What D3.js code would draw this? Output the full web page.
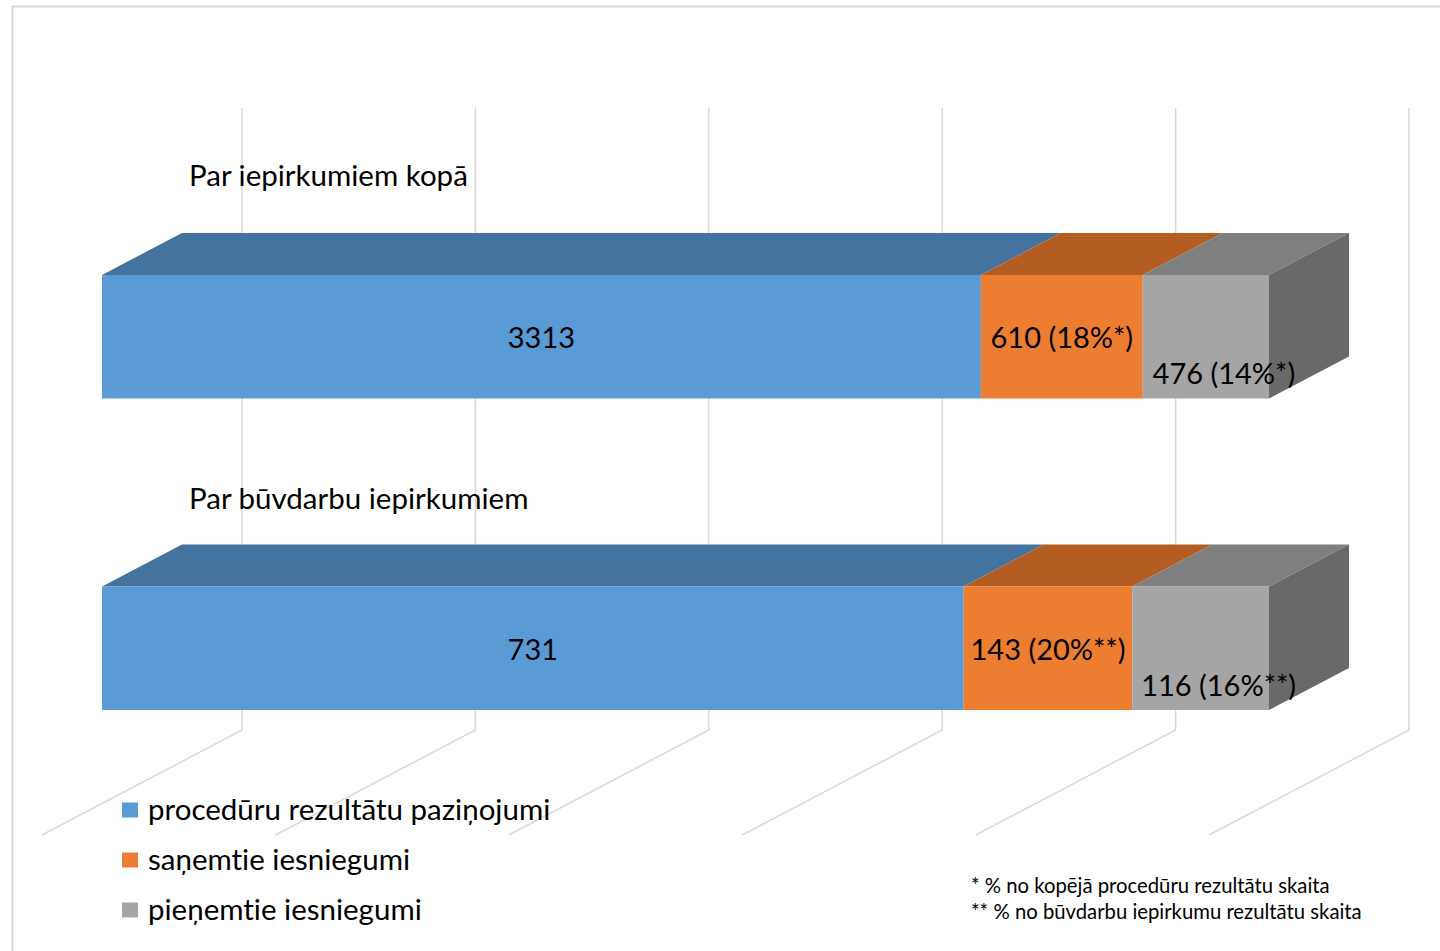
<!DOCTYPE html>
<html>
<head>
<meta charset="utf-8">
<script src="https://cdn.jsdelivr.net/npm/d3@7/dist/d3.min.js"></script>
<style>
  html, body { margin: 0; padding: 0; background: #fff; }
  svg { display: block; }
  text { font-family: Lato, "Open Sans", sans-serif; fill: #000; font-variant-ligatures: none; font-feature-settings: "liga" 0; }
</style>
</head>
<body>
<svg id="chart" width="1440" height="951"></svg>
<script>
// Bar categories (top to bottom)
const categories = ["Par iepirkumiem kopā", "Par būvdarbu iepirkumiem"];
// Series names, in stacking order
const seriesNames = ["procedūru rezultātu paziņojumi", "saņemtie iesniegumi", "pieņemtie iesniegumi"];
// Series values, one per category
const published = [3313, 731];
const received = [610, 143];
const accepted = [476, 116];
// Percent notes shown in the labels
const receivedPct = ["18%*", "20%**"];
const acceptedPct = ["14%*", "16%**"];
// Gridline ticks (share of the 100% stacked bar)
const gridTicks = [0, 0.2, 0.4, 0.6, 0.8, 1];
// Footnotes
const footnotes = ["* % no kopējā procedūru rezultātu skaita", "** % no būvdarbu iepirkumu rezultātu skaita"];

const series = [published, received, accepted];
const colors = [
  { front: "#5B9BD5", top: "#44739F", side: "#3E6A94" },
  { front: "#ED7D31", top: "#B45D22", side: "#A5561F" },
  { front: "#A5A5A5", top: "#7F7F7F", side: "#696969" }
];

const svg = d3.select("#chart");

// Chart frame
svg.append("rect")
  .attr("x", 12.5).attr("y", 6.5).attr("width", 1460).attr("height", 980)
  .attr("fill", "#fff").attr("stroke", "#d9d9d9").attr("stroke-width", 2);

// Oblique 3D projection: depth 0 = front of floor, depth 1 = back wall
const depthVec = { x: 200, y: -105 };
const x = d3.scaleLinear().domain([0, 1]).range([42, 1209]);
const y = d3.scaleBand().domain(categories).range([213, 835]).paddingInner(0.603).paddingOuter(0.3);
const proj = (v, yy, d) => [x(v) + depthVec.x * d, yy + depthVec.y * d];

const floorY = 835;
const wallTopY = 213;
const barDepth0 = 0.3, barDepth1 = 0.7;

// Gridlines: vertical on the back wall, then running forward across the floor
const grid = svg.append("g");
gridTicks.forEach(t => {
  const top = proj(t, wallTopY, 1);
  const backFloor = proj(t, floorY, 1);
  const frontFloor = proj(t, floorY, 0);
  grid.append("path")
    .attr("d", d3.line()([top, backFloor, frontFloor]))
    .attr("fill", "none").attr("stroke", "#d9d9d9").attr("stroke-width", 1.5);
});

// Stacked 3D bars
const bars = svg.append("g");
categories.forEach((cat, i) => {
  const total = d3.sum(series, s => s[i]);
  const y0 = y(cat), y1 = y(cat) + y.bandwidth();
  let acc = 0;
  const segs = series.map((s, k) => {
    const a = acc / total;
    acc += s[i];
    return { k, a, b: acc / total, v: s[i] };
  });
  segs.forEach(sg => {
    const c = colors[sg.k];
    // top face
    bars.append("path")
      .attr("d", d3.line()([
        proj(sg.a, y0, barDepth0), proj(sg.b, y0, barDepth0),
        proj(sg.b, y0, barDepth1), proj(sg.a, y0, barDepth1)
      ]) + "Z")
      .attr("fill", c.top);
    // front face
    bars.append("path")
      .attr("d", d3.line()([
        proj(sg.a, y0, barDepth0), proj(sg.b, y0, barDepth0),
        proj(sg.b, y1, barDepth0), proj(sg.a, y1, barDepth0)
      ]) + "Z")
      .attr("fill", c.front);
  });
  // right side face of the last segment
  const last = segs[segs.length - 1];
  bars.append("path")
    .attr("d", d3.line()([
      proj(1, y0, barDepth0), proj(1, y0, barDepth1),
      proj(1, y1, barDepth1), proj(1, y1, barDepth0)
    ]) + "Z")
    .attr("fill", colors[last.k].side);

  // Data labels
  const midY = (proj(0, y0, barDepth0)[1] + proj(0, y1, barDepth0)[1]) / 2;
  const labelTexts = [
    String(published[i]),
    `${received[i]} (${receivedPct[i]})`,
    `${accepted[i]} (${acceptedPct[i]})`
  ];
  const nudges = [[0, 0], [0, 0], [18, 36]];
  segs.forEach(sg => {
    const cx = (proj(sg.a, 0, barDepth0)[0] + proj(sg.b, 0, barDepth0)[0]) / 2;
    svg.append("text")
      .attr("x", cx + nudges[sg.k][0])
      .attr("y", midY + nudges[sg.k][1])
      .attr("text-anchor", "middle")
      .attr("dominant-baseline", "central")
      .attr("font-size", 29)
      .text(labelTexts[sg.k]);
  });

  // Category label above each bar
  const catNudge = [89, 77][i];
  svg.append("text")
    .attr("x", 189)
    .attr("y", proj(0, y0, barDepth0)[1] - catNudge)
    .attr("font-size", 29.5)
    .text(cat);
});

// Legend
const legend = svg.append("g").attr("transform", "translate(122,810)");
seriesNames.forEach((name, k) => {
  const row = legend.append("g").attr("transform", `translate(0,${k * 50})`);
  row.append("rect").attr("x", 0).attr("y", -7.5).attr("width", 16).attr("height", 15)
    .attr("fill", colors[k].front);
  row.append("text").attr("x", 26).attr("y", 9.5).attr("font-size", 29.5).text(name);
});

// Footnotes
const notes = svg.append("g").attr("transform", "translate(971,893)");
footnotes.forEach((t, j) => {
  notes.append("text").attr("x", 0).attr("y", j * 26).attr("font-size", 20.3).text(t);
});
</script>
</body>
</html>
